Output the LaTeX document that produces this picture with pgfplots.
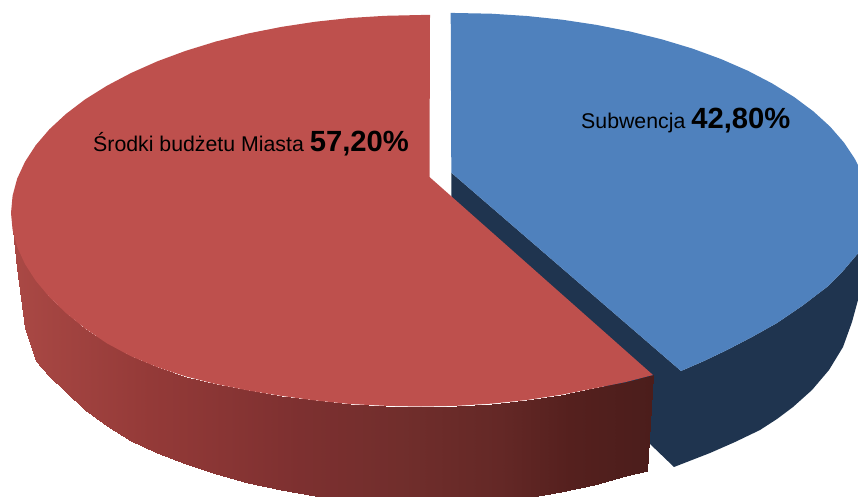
\documentclass[border=0pt]{standalone}
\usepackage{pgfplots}
\pgfplotsset{compat=1.18}
\usepackage{fontspec}
\setmainfont{Liberation Sans}
\definecolor{redtop}{RGB}{190,80,77}
\definecolor{bluetop}{RGB}{79,129,189}
\definecolor{bluedark}{RGB}{31,52,79}
\begin{document}
\begin{tikzpicture}
\useasboundingbox (0,0) rectangle (858pt,497pt);
\begin{axis}[
  at={(0,0)}, anchor=south west,
  scale only axis, width=858pt, height=497pt,
  xmin=0, xmax=858, ymin=0, ymax=497, y dir=reverse,
  hide axis, clip=true,
  point meta min=0, point meta max=660,
  colormap={side}{rgb255(0pt)=(172,74,70); rgb255(150pt)=(148,58,56); rgb255(300pt)=(125,48,48); rgb255(400pt)=(113,46,44); rgb255(500pt)=(100,40,38); rgb255(570pt)=(85,32,30); rgb255(660pt)=(74,29,27)},
]
% dark side of the blue slice
\addplot[fill=bluedark, draw=none] coordinates {
 (451.3,172.7) (681,371) (704,361) (727,350) (752,337) (777,323) (802,306) (827,287) (843,271) (860,251)
 (860,295) (858,300) (852,322) (843,347) (829,370) (812,390) (793,407) (777,419) (760,430) (735,442) (710,453) (692,460) (674,467) (649,443) (451.3,197)
} -- cycle;
% blue top
\addplot[fill=bluetop, draw=none] coordinates {
 (451.3,172.7) (450.7,12.8) (455,13) (491.1,13.7) (526.9,16) (562.1,19.7) (596.6,24.9) (630,31.5) (662,39.4) (692.5,48.6) (721.1,59.1) (747.7,70.7) (772.1,83.4) (794.1,97) (813.5,111.5) (830.2,126.7) (844,142.6) (854.9,159) (860,169)
 (860,251) (843,271) (827,287) (802,306) (777,323) (752,337) (727,350) (704,361) (681,371)
} -- cycle;
% shaded wall of the red slice
\addplot[patch, patch type=rectangle, shader=interp, point meta=explicit] table[x=x, y=y, meta=c] {
x y c
12.6 230 12.6
17.2 247 17.2
17.2 268 17.2
12.6 230 12.6
17.2 247 17.2
25 264 25
25 328 25
17.2 268 17.2
25 264 25
35.7 280.7 35.7
35.7 361 35.7
25 328 25
35.7 280.7 35.7
49.4 297 49.4
49.4 376 49.4
35.7 361 35.7
49.4 297 49.4
65.9 313 65.9
65.9 392 65.9
49.4 376 49.4
65.9 313 65.9
85.1 328.5 85.1
85.1 410 85.1
65.9 392 65.9
85.1 328.5 85.1
107 343.4 107
107 426 107
85.1 410 85.1
107 343.4 107
131.1 356.3 131.1
131.1 441 131.1
107 426 107
131.1 356.3 131.1
157.4 367.2 157.4
157.4 453 157.4
131.1 441 131.1
157.4 367.2 157.4
185.8 376.5 185.8
185.8 464 185.8
157.4 453 157.4
185.8 376.5 185.8
216 384 216
216 474 216
185.8 464 185.8
216 384 216
247.7 390.4 247.7
247.7 482.5 247.7
216 474 216
247.7 390.4 247.7
280.8 395.8 280.8
280.8 489.5 280.8
247.7 482.5 247.7
280.8 395.8 280.8
314.9 400.4 314.9
314.9 496 314.9
280.8 489.5 280.8
314.9 400.4 314.9
349.8 404 349.8
349.8 500 349.8
314.9 496 314.9
349.8 404 349.8
385.2 405.8 385.2
385.2 502.5 385.2
349.8 500 349.8
385.2 405.8 385.2
421 406.5 421
421 503.5 421
385.2 502.5 385.2
421 406.5 421
456.7 405.8 456.7
456.7 503 456.7
421 503.5 421
456.7 405.8 456.7
492 403.6 492
492 501 492
456.7 503 456.7
492 403.6 492
527 400 527
527 497.5 527
492 501 492
527 400 527
561 394.8 561
561 492 561
527 497.5 527
561 394.8 561
594 388.4 594
594 484.5 594
561 492 561
594 388.4 594
626 382 626
626 476 626
594 484.5 594
626 382 626
653 375 653
647 471 647
626 476 626
};
% red top
\addplot[fill=redtop, draw=none] coordinates {
 (429.5,177) (430,15) (421,15) (385.2,15.8) (349.8,18) (314.9,21.8) (280.8,27) (247.7,33.6) (216,41.5) (185.8,50.8) (157.4,61.3) (131.1,73) (107,85.7) (85.1,99.4) (65.9,114) (49.4,129.3) (35.7,145.3) (25,161.8) (17.2,178.6) (12.6,195.7) (11,213)
 (12.6,230) (17.2,247) (25,264) (35.7,280.7) (49.4,297) (65.9,313) (85.1,328.5) (107,343.4) (131.1,356.3) (157.4,367.2) (185.8,376.5) (216,384) (247.7,390.4) (280.8,395.8) (314.9,400.4) (349.8,404) (385.2,405.8) (421,406.5) (456.7,405.8) (492,403.6) (527,400) (561,394.8) (594,388.4) (626,382) (653,375)
} -- cycle;
\node[anchor=base west, inner sep=0pt, text=black] at (axis cs:93,152) {\fontsize{21.3}{24}\selectfont Środki budżetu Miasta \fontsize{29.2}{32}\selectfont\bfseries 57,20\%};
\node[anchor=base west, inner sep=0pt, text=black] at (axis cs:581,129) {\fontsize{21.3}{24}\selectfont Subwencja \fontsize{29.2}{32}\selectfont\bfseries 42,80\%};
\end{axis}
\end{tikzpicture}
\end{document}
